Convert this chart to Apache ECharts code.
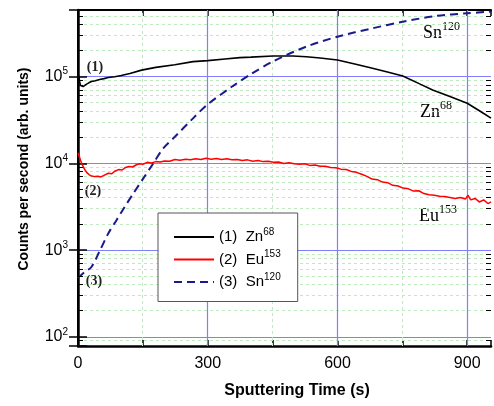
<!DOCTYPE html>
<html><head><meta charset="utf-8">
<script src="https://cdn.jsdelivr.net/npm/echarts@6/dist/echarts.min.js"></script>
<style>html,body{margin:0;padding:0;background:#fff}#c{width:494px;height:406px}</style>
</head><body><div id="c"></div>
<script>
// ---- data ----
const xTickLabels = ['0', '300', '600', '900'];
const yTickExponents = [2, 3, 4, 5];

const znTime = [0,2,4,6,8,12,18,25,31,40,50,60,70,85,100,120,147,180,224,266,300,340,374,400,451,497,528,560,600,640,681,720,751,790,820,860,900,930,955];
const znCounts = [1.08e5,1.0e5,8.6e4,7.9e4,7.65e4,7.7e4,8.1e4,8.5e4,8.8e4,9.0e4,9.3e4,9.5e4,9.8e4,1.0e5,1.03e5,1.09e5,1.19e5,1.28e5,1.37e5,1.49e5,1.53e5,1.6e5,1.66e5,1.68e5,1.73e5,1.73e5,1.7e5,1.64e5,1.56e5,1.4e5,1.25e5,1.12e5,1.02e5,8.26e4,7.03e4,5.9e4,4.94e4,4.0e4,3.33e4];

const euTime = [0,3,6,10,15,20,26,32,39,46,53,60,70,78,86,94,102,110,118,126,134,142,150,160,170,180,190,200,212,224,236,248,260,272,284,296,308,320,332,344,356,368,380,392,404,416,428,440,452,464,476,488,500,512,524,536,548,560,572,584,596,608,620,632,644,656,668,680,692,704,716,728,740,752,764,776,788,800,812,824,836,848,860,872,884,896,902,908,918,928,938,948,955];
const euCounts = [1.33e4,1.2e4,1.08e4,9.6e3,8.6e3,7.9e3,7.4e3,7.15e3,7.05e3,7.1e3,7.0e3,7.3e3,7.7e3,7.6e3,8.2e3,8.5e3,8.4e3,9.0e3,9.2e3,9.1e3,9.6e3,9.9e3,9.8e3,1.03e4,1.01e4,1.05e4,1.04e4,1.07e4,1.06e4,1.11e4,1.09e4,1.12e4,1.1e4,1.13e4,1.11e4,1.15e4,1.12e4,1.14e4,1.11e4,1.13e4,1.1e4,1.11e4,1.08e4,1.1e4,1.06e4,1.08e4,1.05e4,1.06e4,1.03e4,1.04e4,1.0e4,1.02e4,9.9e3,9.8e3,9.9e3,9.5e3,9.6e3,9.3e3,9.3e3,9.0e3,8.9e3,8.6e3,8.5e3,8.1e3,7.9e3,7.5e3,7.1e3,6.6e3,6.5e3,6.1e3,6.0e3,5.6e3,5.5e3,5.2e3,5.1e3,4.8e3,4.85e3,4.5e3,4.35e3,4.3e3,4.2e3,4.15e3,4.05e3,3.95e3,4.05e3,3.9e3,4.3e3,3.8e3,3.95e3,3.6e3,3.8e3,3.45e3,3.6e3];

const snTime = [0,15,31,51,70,89,108,128,151,174,197,224,266,300,358,400,451,528,600,681,751,828,900,957];
const snCounts = [480,560,640,1000,1560,2220,3160,4520,6730,10000,14900,20300,33100,48000,78000,107000,150000,222000,289000,361000,430000,501000,538000,563000];

const seriesNames = ['Zn68', 'Eu153', 'Sn120'];
const legendPrefixes = ['(1)', '(2)', '(3)'];
const legendElements = ['Zn', 'Eu', 'Sn'];
const legendMasses = ['68', '153', '120'];
const minorXGrid = [150, 450, 750];
const majorXGrid = [300, 600, 900];

// ---- build ----
const X_MIN = 0, X_MAX = 955, Y_MIN = 78.7, Y_MAX = 5.87e5;
const SANS = "'Liberation Sans', Arial, sans-serif";
const SERIF = "'Liberation Serif', 'Times New Roman', serif";
const BLUE_GRID = '#8080ff';
const pairs = (t, v) => t.map((x, i) => [x, v[i]]);
const snap = p => Math.round(p - 0.5) + 0.5;

const minorY = [];
for (let e = 1; e <= 5; e++) for (let m = 2; m <= 9; m++) {
  const v = m * Math.pow(10, e);
  if (v > 85 && v < Y_MAX) minorY.push(v);
}

// custom series drawing reference lines through the axes' scales
const hLineSeries = (name, values, style, z) => ({
  name, type: 'custom', z, silent: true, clip: true,
  data: values.map(v => [X_MIN, v]),
  renderItem: (params, api) => {
    const a = api.coord([X_MIN, api.value(1)]), b = api.coord([X_MAX, api.value(1)]);
    const y = snap(a[1]);
    return {type: 'line', shape: {x1: a[0], y1: y, x2: b[0], y2: y}, style: Object.assign({fill: null}, style)};
  }
});
const vLineSeries = (name, values, style, z) => ({
  name, type: 'custom', z, silent: true, clip: true,
  data: values.map(v => [v, Y_MIN]),
  renderItem: (params, api) => {
    const a = api.coord([api.value(0), Y_MIN]), b = api.coord([api.value(0), Y_MAX]);
    const x = snap(a[0]);
    return {type: 'line', shape: {x1: x, y1: a[1], x2: x, y2: b[1]}, style: Object.assign({fill: null}, style)};
  }
});
const minorTickSeries = {
  name: 'minorTicks', type: 'custom', z: 6, silent: true,
  data: minorY.map(v => [X_MIN, v]),
  renderItem: (params, api) => {
    const a = api.coord([X_MIN, api.value(1)]), b = api.coord([X_MAX, api.value(1)]);
    const y = snap(a[1]);
    const st = {stroke: '#000', lineWidth: 1};
    return {type: 'group', children: [
      {type: 'line', shape: {x1: a[0], y1: y, x2: a[0] + 5, y2: y}, style: st},
      {type: 'line', shape: {x1: b[0] - 5, y1: y, x2: b[0], y2: y}, style: st}
    ]};
  }
};
const greenStyle = {stroke: '#bfe9bf', lineWidth: 1, lineDash: [3, 3]};
const blueStyle = {stroke: BLUE_GRID, lineWidth: 1.2};

const supRich = (size, family, lh) => ({
  b: {fontSize: size, fontFamily: family, lineHeight: lh, color: '#000'},
  s: {fontSize: Math.round(size * 0.64), fontFamily: family, lineHeight: 8, verticalAlign: 'top', color: '#000'}
});

const yFormatter = value => {
  const e = Math.round(Math.log10(value));
  if (Math.abs(value - Math.pow(10, e)) / value < 1e-6 && yTickExponents.includes(e)) return '{b|10}{s|' + e + '}';
  return '';
};

const chart = echarts.init(document.getElementById('c'), null, {renderer: 'canvas'});
const option = {
  animation: false,
  backgroundColor: '#fff',
  grid: {left: 78, right: 1, top: 10, bottom: 60, containLabel: false},
  legend: {
    data: seriesNames, orient: 'vertical', left: 158, top: 213,
    padding: [14, 17, 12, 15], itemWidth: 40, itemHeight: 14, itemGap: 5,
    backgroundColor: '#fff', borderColor: '#555', borderWidth: 1,
    itemStyle: {opacity: 0},
    formatter: name => {
      const i = seriesNames.indexOf(name);
      return '{b|' + legendPrefixes[i] + '  ' + legendElements[i] + '}{s|' + legendMasses[i] + '}';
    },
    textStyle: {fontFamily: SANS, fontSize: 15, color: '#000', rich: supRich(15, SANS, 20)}
  },
  xAxis: [{
    type: 'value', min: X_MIN, max: X_MAX, interval: 150, position: 'bottom',
    axisLine: {show: true, lineStyle: {color: '#000', width: 2.5}},
    axisTick: {show: true, inside: true, length: 6, lineStyle: {color: '#000', width: 1.5}},
    axisLabel: {margin: 10, fontFamily: SANS, fontSize: 16, color: '#000',
      formatter: v => xTickLabels.includes(String(v)) ? String(v) : ''},
    splitLine: {show: false}
  }, {
    type: 'value', min: X_MIN, max: X_MAX, interval: 150, position: 'top',
    axisLine: {show: true, lineStyle: {color: '#000', width: 2}},
    axisTick: {show: true, inside: true, length: 6, lineStyle: {color: '#000', width: 1.5}},
    axisLabel: {show: false}, splitLine: {show: false}
  }],
  yAxis: [{
    type: 'log', logBase: 10, min: Y_MIN, max: Y_MAX, position: 'left',
    axisLine: {show: true, lineStyle: {color: '#000', width: 2.5}},
    axisTick: {show: true, inside: true, length: 9, lineStyle: {color: '#000', width: 1.5}},
    axisLabel: {margin: 10, formatter: yFormatter, rich: supRich(16, SANS, 20)},
    splitLine: {show: true, lineStyle: {color: BLUE_GRID, width: 1.2}}
  }, {
    type: 'log', logBase: 10, min: Y_MIN, max: Y_MAX, position: 'right',
    axisLine: {show: true, lineStyle: {color: '#000', width: 2}},
    axisTick: {show: true, inside: true, length: 9, lineStyle: {color: '#000', width: 1.5}},
    axisLabel: {show: false}, splitLine: {show: false}
  }],
  series: [
    hLineSeries('greenH', minorY, greenStyle, 1),
    vLineSeries('greenV', minorXGrid, greenStyle, 1),
    vLineSeries('blueV', majorXGrid, blueStyle, 1),
    minorTickSeries,
    {name: seriesNames[0], type: 'line', data: pairs(znTime, znCounts), showSymbol: false, symbol: 'none', z: 3,
      itemStyle: {color: '#000'}, lineStyle: {color: '#000', width: 1.6}},
    {name: seriesNames[1], type: 'line', data: pairs(euTime, euCounts), showSymbol: false, symbol: 'none', z: 3,
      itemStyle: {color: '#ff0000'}, lineStyle: {color: '#ff0000', width: 1.5}},
    {name: seriesNames[2], type: 'line', data: pairs(snTime, snCounts), showSymbol: false, symbol: 'none', z: 3, smooth: 0.3,
      itemStyle: {color: '#1a1a8c'}, lineStyle: {color: '#1a1a8c', width: 2, type: [8, 5]}}
  ],
  graphic: [
    {type: 'text', x: 24, y: 169, rotation: Math.PI / 2, style: {text: 'Counts per second (arb. units)', font: 'bold 14px ' + SANS, fill: '#000', align: 'center', verticalAlign: 'middle'}},
    {type: 'text', x: 297, y: 391, style: {text: 'Sputtering Time (s)', font: 'bold 16px ' + SANS, fill: '#000', align: 'center', verticalAlign: 'middle'}},
    {type: 'text', x: 95, y: 67, style: {text: '(1)', font: 'bold 14px ' + SERIF, fill: '#222', align: 'center', verticalAlign: 'middle'}},
    {type: 'text', x: 93, y: 191, style: {text: '(2)', font: 'bold 14px ' + SERIF, fill: '#222', align: 'center', verticalAlign: 'middle'}},
    {type: 'text', x: 94, y: 281, style: {text: '(3)', font: 'bold 14px ' + SERIF, fill: '#222', align: 'center', verticalAlign: 'middle'}},
    {type: 'text', x: 423, y: 33, style: {text: '{b|Sn}{s|120}', rich: supRich(18, SERIF, 24), align: 'left', verticalAlign: 'middle'}},
    {type: 'text', x: 420, y: 112, style: {text: '{b|Zn}{s|68}', rich: supRich(18, SERIF, 24), align: 'left', verticalAlign: 'middle'}},
    {type: 'text', x: 419, y: 216, style: {text: '{b|Eu}{s|153}', rich: supRich(18, SERIF, 24), align: 'left', verticalAlign: 'middle'}}
  ]
};
chart.setOption(option);
</script>
</body></html>
